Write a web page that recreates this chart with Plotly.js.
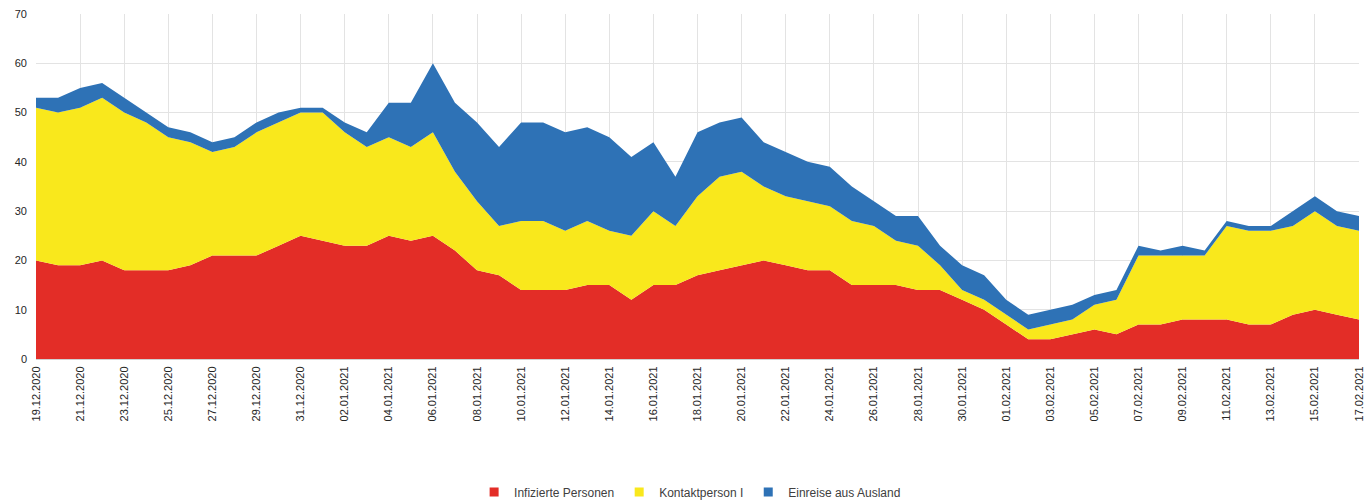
<!DOCTYPE html>
<html>
<head>
<meta charset="utf-8">
<script src="https://cdn.plot.ly/plotly-3.0.1.min.js"></script>
<style>html,body{margin:0;padding:0;background:#fff;}#chart{width:1372px;height:502px;}</style>
</head>
<body>
<div id="chart"></div>
<script>
const dates = ["19.12.2020","20.12.2020","21.12.2020","22.12.2020","23.12.2020","24.12.2020","25.12.2020","26.12.2020","27.12.2020","28.12.2020","29.12.2020","30.12.2020","31.12.2020",
"01.01.2021","02.01.2021","03.01.2021","04.01.2021","05.01.2021","06.01.2021","07.01.2021","08.01.2021","09.01.2021","10.01.2021","11.01.2021","12.01.2021","13.01.2021","14.01.2021","15.01.2021","16.01.2021","17.01.2021","18.01.2021","19.01.2021","20.01.2021","21.01.2021","22.01.2021","23.01.2021","24.01.2021","25.01.2021","26.01.2021","27.01.2021","28.01.2021","29.01.2021","30.01.2021","31.01.2021",
"01.02.2021","02.02.2021","03.02.2021","04.02.2021","05.02.2021","06.02.2021","07.02.2021","08.02.2021","09.02.2021","10.02.2021","11.02.2021","12.02.2021","13.02.2021","14.02.2021","15.02.2021","16.02.2021","17.02.2021"];

const infizierte = [20,19,19,20,18,18,18,19,21,21,21,23,25,24,23,23,25,24,25,22,18,17,14,14,14,15,15,12,15,15,17,18,19,20,19,18,18,15,15,15,14,14,12,10,7,4,4,5,6,5,7,7,8,8,8,7,7,9,10,9,8];
const kontakt = [31,31,32,33,32,30,27,25,21,22,25,25,25,26,23,20,20,19,21,16,14,10,14,14,12,13,11,13,15,12,16,19,19,15,14,14,13,13,12,9,9,5,2,2,2,2,3,3,5,7,14,14,13,13,19,19,19,18,20,18,18];
const einreise = [2,3,4,3,3,2,2,2,2,2,2,2,1,1,2,3,7,9,14,14,16,16,20,20,20,19,19,16,14,10,13,11,11,9,9,8,8,7,5,5,6,4,5,5,3,3,3,3,2,2,2,1,2,1,1,1,1,3,3,3,3];

const seriesNames = ["Infizierte Personen","Kontaktperson I","Einreise aus Ausland"];
const seriesColors = ["#E32D27","#F9E81C","#2E72B6"];
const seriesData = [infizierte, kontakt, einreise];

const tickLabels = dates.filter((d,i)=> i % 2 === 0);

const traces = seriesData.map((vals, k) => ({
  type: "scatter",
  mode: "lines",
  x: dates,
  y: vals,
  name: seriesNames[k],
  stackgroup: "one",
  line: {width: 0, color: seriesColors[k]},
  fillcolor: seriesColors[k],
  showlegend: false,
  hoverinfo: "x+y+name"
}));

// legend-only entries with square swatches (no data drawn)
const legendTraces = seriesNames.map((n, k) => ({
  type: "scatter",
  mode: "markers",
  x: [null],
  y: [null],
  name: n,
  marker: {symbol: "square", size: 9, color: seriesColors[k]},
  showlegend: true,
  hoverinfo: "skip"
}));

const layout = {
  width: 1372,
  height: 502,
  margin: {l: 36, r: 13, t: 14, b: 143, autoexpand: false},
  paper_bgcolor: "#fff",
  plot_bgcolor: "#fff",
  font: {family: "Liberation Sans, Arial, sans-serif", size: 11, color: "#404040"},
  showlegend: true,
  legend: {
    orientation: "h",
    xref: "container", yref: "container",
    x: 0.503, xanchor: "center",
    y: 0.02, yanchor: "middle",
    font: {size: 12, color: "#404040"},
    traceorder: "normal",
    itemwidth: 30
  },
  xaxis: {
    type: "category",
    categoryorder: "array",
    categoryarray: dates,
    range: [0, dates.length - 1],
    tickmode: "array",
    tickvals: tickLabels,
    ticktext: tickLabels,
    tickangle: -90,
    automargin: false,
    showgrid: true,
    gridcolor: "#E3E3E3",
    gridwidth: 1,
    showline: true,
    linecolor: "#D0D0D0",
    ticks: "",
    ticklabelstandoff: 2,
    tickfont: {size: 11, color: "#262626"},
    zeroline: false,
    fixedrange: true
  },
  yaxis: {
    range: [0, 70],
    dtick: 10,
    tick0: 0,
    automargin: false,
    showgrid: true,
    gridcolor: "#E3E3E3",
    gridwidth: 1,
    zeroline: false,
    showline: false,
    ticks: "",
    ticklabelstandoff: 8,
    tickfont: {size: 11, color: "#262626"},
    fixedrange: true
  }
};

Plotly.newPlot("chart", traces.concat(legendTraces), layout, {displayModeBar: false, staticPlot: true});
</script>
</body>
</html>
